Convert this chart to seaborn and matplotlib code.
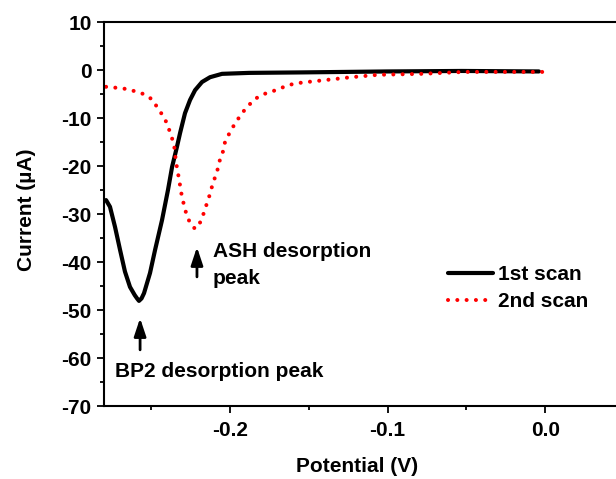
import numpy as np
import matplotlib
matplotlib.use("Agg")
import matplotlib.pyplot as plt
from matplotlib.ticker import MultipleLocator, FormatStrFormatter
import seaborn as sns

# values
scan1_potential = [-0.2787, -0.2762, -0.2730, -0.2698, -0.2667, -0.2635, -0.2605, -0.2590,
                   -0.2578, -0.2562, -0.2546, -0.2508, -0.2476, -0.2432, -0.2394, -0.2368,
                   -0.2337, -0.2317, -0.2286, -0.2254, -0.2222, -0.2178, -0.2127, -0.2051,
                   -0.1879, -0.1540, -0.1000, -0.0530, -0.0040]
scan1_current = [-27.1, -28.5, -32.7, -37.5, -42.0, -45.2, -46.9, -47.6,
                 -48.1, -47.6, -46.5, -42.3, -37.5, -31.3, -25.0, -20.2,
                 -16.0, -13.1, -9.0, -6.25, -4.2, -2.5, -1.5, -0.8,
                 -0.6, -0.5, -0.3, -0.2, -0.3]

scan2_potential = [-0.2787, -0.2705, -0.2648, -0.2597, -0.2540, -0.2490, -0.2457, -0.2419,
                   -0.2394, -0.2375, -0.2356, -0.2343, -0.2324, -0.2305, -0.2279, -0.2254,
                   -0.2222, -0.2184, -0.2165, -0.2146, -0.2127, -0.2114, -0.2095, -0.2076,
                   -0.2063, -0.2044, -0.2032, -0.2006, -0.1975, -0.1937, -0.1898, -0.1841,
                   -0.1784, -0.1727, -0.1676, -0.1625, -0.1562, -0.1511, -0.1340, -0.1232,
                   -0.1060, -0.0787, -0.0514, -0.0013]
scan2_current = [-3.5, -3.75, -4.0, -4.5, -5.1, -6.25, -8.1, -9.8,
                 -11.7, -13.6, -15.4, -19.2, -22.7, -26.5, -29.8, -31.9,
                 -33.1, -31.5, -29.6, -27.7, -25.8, -24.2, -22.3, -20.4,
                 -18.5, -16.9, -15.0, -13.3, -11.5, -9.6, -7.9, -6.0,
                 -5.0, -4.4, -3.75, -3.1, -2.7, -2.5, -1.9, -1.5,
                 -1.0, -0.8, -0.4, -0.4]

series_labels = ["1st scan", "2nd scan"]

sns.set_theme(style="ticks")
plt.rcParams["font.family"] = ["Liberation Sans", "DejaVu Sans"]
plt.rcParams["font.weight"] = "bold"
plt.rcParams["axes.labelweight"] = "bold"
plt.rcParams["axes.unicode_minus"] = False
plt.rcParams["font.size"] = 15
plt.rcParams["text.color"] = "black"
plt.rcParams["axes.labelcolor"] = "black"

fig = plt.figure(figsize=(6.16, 4.79), dpi=100)
# axes run past the right edge, like the cropped original
ax = fig.add_axes([104 / 616, 73 / 479, 520 / 616, 384 / 479])

sns.lineplot(x=scan1_potential, y=scan1_current, ax=ax, color="black",
             linewidth=3, label=series_labels[0], sort=False)
sns.lineplot(x=scan2_potential, y=scan2_current, ax=ax, color="red",
             linewidth=2.9, label=series_labels[1], sort=False)
dotted = ax.get_lines()[1]
dotted.set_linestyle((0, (0.01, 2.3)))
dotted.set_dash_capstyle("round")

ax.set_xlim(-0.28, 0.05)
ax.set_ylim(-70, 10)
ax.xaxis.set_major_locator(MultipleLocator(0.1))
ax.xaxis.set_minor_locator(MultipleLocator(0.05))
ax.yaxis.set_major_locator(MultipleLocator(10))
ax.yaxis.set_minor_locator(MultipleLocator(5))
ax.xaxis.set_major_formatter(FormatStrFormatter("%.1f"))
ax.yaxis.set_major_formatter(FormatStrFormatter("%d"))

for s in ax.spines.values():
    s.set_linewidth(1.5)
    s.set_color("black")
ax.tick_params(which="both", direction="out", width=1.3, colors="black",
               top=False, right=False, labelsize=15)
ax.tick_params(which="major", length=5)
ax.tick_params(which="minor", length=3)
ax.tick_params(axis="x", which="major", pad=6)
ax.tick_params(axis="y", which="major", pad=4)

ax.set_xlabel("Potential (V)", fontsize=15, color="black")
ax.set_ylabel("Current (\u00b5A)", fontsize=15, color="black")
ax.xaxis.set_label_coords(0.4865, -0.133)
ax.yaxis.set_label_coords(-0.130, 0.51)

# peak markers
arrow = dict(arrowstyle="-|>,head_length=0.6,head_width=0.2", color="black",
             lw=2, mutation_scale=18, shrinkA=0, shrinkB=0)
ax.annotate("", xy=(-0.221, -36.9), xytext=(-0.221, -43.1), arrowprops=arrow)
ax.annotate("", xy=(-0.2571, -51.7), xytext=(-0.2571, -58.3), arrowprops=arrow)
ax.text(-0.2108, -39.0, "ASH desorption", fontsize=15, va="baseline", ha="left", color="black")
ax.text(-0.2108, -44.5, "peak", fontsize=15, va="baseline", ha="left", color="black")
ax.text(-0.273, -64.0, "BP2 desorption peak", fontsize=15, va="baseline", ha="left", color="black")

leg = ax.legend(frameon=False, loc="upper left", bbox_to_anchor=(0.6615, 0.367),
                borderaxespad=0, borderpad=0, handlelength=2.15, handletextpad=0.25,
                labelspacing=0.4, fontsize=15)
for t in leg.get_texts():
    t.set_color("black")

fig.savefig("out.png", dpi=100)
